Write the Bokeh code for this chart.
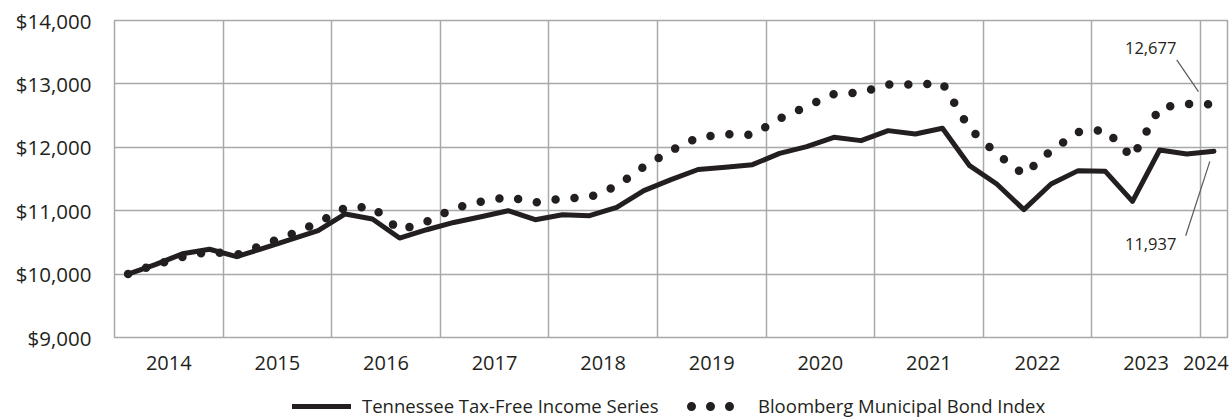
from bokeh.plotting import figure
from bokeh.layouts import column
from bokeh.models import FixedTicker, NumeralTickFormatter, Legend, LegendItem, Label
from bokeh.embed import file_html
from bokeh.resources import INLINE

# Quarterly values, Mar 2014 .. Mar 2024 (growth of $10,000)
quarters = list(range(41))
fund = [10000, 10150, 10320, 10392, 10275, 10411, 10547, 10684, 10948, 10869, 10569,
        10700, 10815, 10905, 11000, 10858, 10937, 10921, 11052, 11316, 11490,
        11650, 11684, 11726, 11905, 12010, 12157, 12105, 12263, 12210, 12300,
        11710, 11421, 11016, 11421, 11632, 11621, 11147, 11958, 11895, 11937]
index = [10000, 10149, 10269, 10357, 10300, 10466, 10627, 10810, 11045, 11060, 10692,
         10826, 11038, 11142, 11215, 11131, 11194, 11210, 11390, 11695, 11947,
         12156, 12208, 12195, 12453, 12645, 12840, 12863, 12990, 12990, 13010,
         12295, 11900, 11570, 11947, 12240, 12276, 11837, 12626, 12685, 12677]
years = ["2014", "2015", "2016", "2017", "2018", "2019", "2020", "2021", "2022", "2023", "2024"]
y_ticks = [9000, 10000, 11000, 12000, 13000, 14000]
series_names = ["Tennessee Tax-Free Income Series", "Bloomberg Municipal Bond Index"]

INK = "#231f20"
GRID = "#a7a9ac"
FONT = "Open Sans"

p = figure(width=1231, height=388, output_backend="svg", toolbar_location=None,
           x_range=(-0.5, 40.5), y_range=(9000, 14000),
           min_border_left=114, min_border_right=4, min_border_top=20, min_border_bottom=51)
p.outline_line_color = GRID
p.outline_line_width = 1.5
p.background_fill_color = "white"
p.border_fill_color = "white"

# grid: year boundaries every 4 quarters
p.xgrid.ticker = FixedTicker(ticks=[3.5 + 4 * k for k in range(10)])
p.ygrid.ticker = FixedTicker(ticks=y_ticks)
for g in (p.xgrid, p.ygrid):
    g.grid_line_color = GRID
    g.grid_line_width = 1.5

# x axis: year labels centred in their band
label_pos = [1.5 + 4 * k for k in range(10)] + [39.7]
p.xaxis.ticker = FixedTicker(ticks=label_pos)
p.xaxis.major_label_overrides = {pos: yr for pos, yr in zip(label_pos, years)}
p.yaxis.ticker = FixedTicker(ticks=y_ticks)
p.yaxis.formatter = NumeralTickFormatter(format="$0,0")
for ax in (p.xaxis, p.yaxis):
    ax.axis_line_color = None
    ax.major_tick_line_color = None
    ax.minor_tick_line_color = None
    ax.major_tick_out = 0
    ax.major_tick_in = 0
    ax.major_label_text_font = FONT
    ax.major_label_text_color = INK
p.xaxis.major_label_text_font_size = "20px"
p.yaxis.major_label_text_font_size = "20.5px"
p.xaxis.major_label_standoff = 18
p.yaxis.major_label_standoff = 23

p.line(quarters, fund, line_width=5, line_color=INK, line_join="round", line_cap="round")
p.line(quarters, index, line_width=8.5, line_color=INK, line_dash="0 19", line_cap="round")

# end-value callouts
p.add_layout(Label(x=37.67, y=13560, text=f"{index[-1]:,}", text_align="center",
                   text_baseline="middle", text_font=FONT, text_font_size="16.5px",
                   text_color=INK))
p.add_layout(Label(x=37.67, y=10470, text=f"{fund[-1]:,}", text_align="center",
                   text_baseline="middle", text_font=FONT, text_font_size="16.5px",
                   text_color=INK))
p.segment(x0=[38.63, 38.96], y0=[13379, 10605], x1=[39.43, 39.85], y1=[12879, 11778],
          line_color="#58595b", line_width=1.2)

# legend strip below the chart (its frame is aligned with the chart's frame)
lg = figure(width=1231, height=30, output_backend="svg", toolbar_location=None,
            x_range=(0, 1), y_range=(0, 1), x_axis_type=None, y_axis_type=None,
            min_border=0, min_border_left=0, min_border_right=0,
            min_border_top=0, min_border_bottom=0)
lg.outline_line_color = None
lg.grid.visible = False
lg_fund = lg.line([-10, -9], [-10, -9], line_width=5, line_color=INK, line_cap="round")
lg_idx = lg.line([-10, -9], [-10, -9], line_width=9, line_color=INK, line_dash="0 19",
                 line_dash_offset=14, line_cap="round")
common = dict(orientation="horizontal", glyph_height=20, padding=0, margin=0,
              border_line_color=None, background_fill_alpha=0,
              label_text_font=FONT, label_text_font_size="18.5px", label_text_color=INK)
lg.add_layout(Legend(items=[LegendItem(label=series_names[0], renderers=[lg_fund])],
                     location=(178, 0), glyph_width=59, label_standoff=11, **common), "center")
lg.add_layout(Legend(items=[LegendItem(label=series_names[1], renderers=[lg_idx])],
                     location=(572, 0), glyph_width=49, label_standoff=23, **common), "center")

open("out.html", "w").write(file_html(column(p, lg, spacing=0), INLINE))
